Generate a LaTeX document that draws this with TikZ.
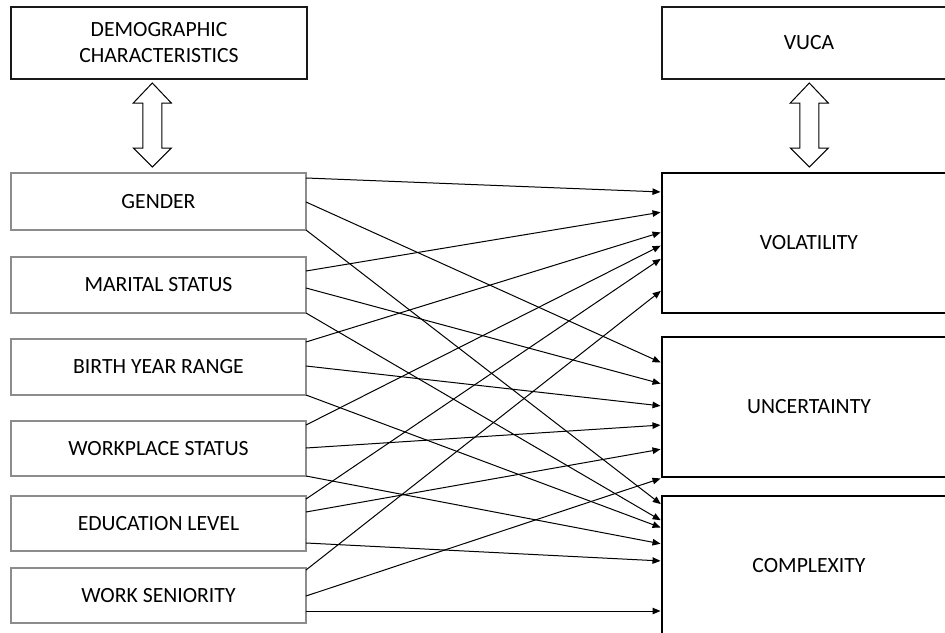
\documentclass[tikz,border=0pt]{standalone}
\usepackage{fontspec}
\setmainfont{Carlito}
\usetikzlibrary{arrows.meta}
\tikzset{
  base/.style={rectangle, inner sep=0pt, outer sep=0pt, align=center,
    font=\fontsize{21.7}{26}\selectfont},
  lbox/.style={base, draw=black!45, line width=1.3pt, minimum width=295pt, minimum height=56pt},
  rbox/.style={base, draw=black, line width=1.5pt, minimum width=294pt, minimum height=140pt},
  topbox/.style={base, draw=black!90, line width=1.6pt, minimum height=72pt},
  arr/.style={line width=1pt, -{Triangle[length=8pt,width=6.5pt]}, shorten >=1.5pt},
  dblarrow/.pic={\draw[line width=1pt, fill=white, line join=miter]
    (0,0) -- (19,20) -- (9.5,20) -- (9.5,65) -- (19,65) -- (0,84)
    -- (-19,65) -- (-9.5,65) -- (-9.5,20) -- (-19,20) -- cycle;}
}
\newcommand{\conn}[4]{\draw[arr] ([yshift=-#2pt]#1.north east) -- ([yshift=-#4pt]#3.north west);}
\begin{document}
\begin{tikzpicture}[x=1pt,y=-1pt]
\clip (0,0) rectangle (945,632);
\fill[white] (0,0) rectangle (945,632);
% top boxes
\node[topbox, minimum width=296pt] (demo) at (159,43) {DEMOGRAPHIC\\CHARACTERISTICS};
\node[topbox, minimum width=294pt] (vuca) at (809,43) {VUCA};
% left boxes
\node[lbox, minimum height=57pt] (gender) at (158.5,201.5) {GENDER};
\node[lbox] (marital) at (158.5,285) {MARITAL STATUS};
\node[lbox] (birth) at (158.5,367) {BIRTH YEAR RANGE};
\node[lbox, minimum height=55pt] (workplace) at (158.5,448.5) {WORKPLACE STATUS};
\node[lbox, minimum height=55pt] (education) at (158.5,523.5) {EDUCATION LEVEL};
\node[lbox, minimum height=55pt] (seniority) at (158.5,595.5) {WORK SENIORITY};
% right boxes
\node[rbox] (vol) at (809,243) {VOLATILITY};
\node[rbox] (unc) at (809,407) {UNCERTAINTY};
\node[rbox] (comp) at (809,566) {COMPLEXITY};
% double arrows
\pic at (152.3,83) {dblarrow};
\pic at (809.3,83) {dblarrow};
% to volatility
\conn{gender}{5}{vol}{19}
\conn{marital}{14}{vol}{39}
\conn{birth}{3}{vol}{59}
\conn{workplace}{4}{vol}{72}
\conn{education}{3}{vol}{85}
\conn{seniority}{2}{vol}{117}
% to uncertainty
\conn{gender}{29}{unc}{26}
\conn{marital}{31}{unc}{47}
\conn{birth}{27}{unc}{69}
\conn{workplace}{27}{unc}{88}
\conn{education}{16}{unc}{112}
\conn{seniority}{28}{unc}{141}
% to complexity
\conn{gender}{57}{comp}{9}
\conn{marital}{56}{comp}{25}
\conn{birth}{56}{comp}{32}
\conn{workplace}{55}{comp}{48}
\conn{education}{47}{comp}{65}
\conn{seniority}{43}{comp}{115}
\end{tikzpicture}
\end{document}
